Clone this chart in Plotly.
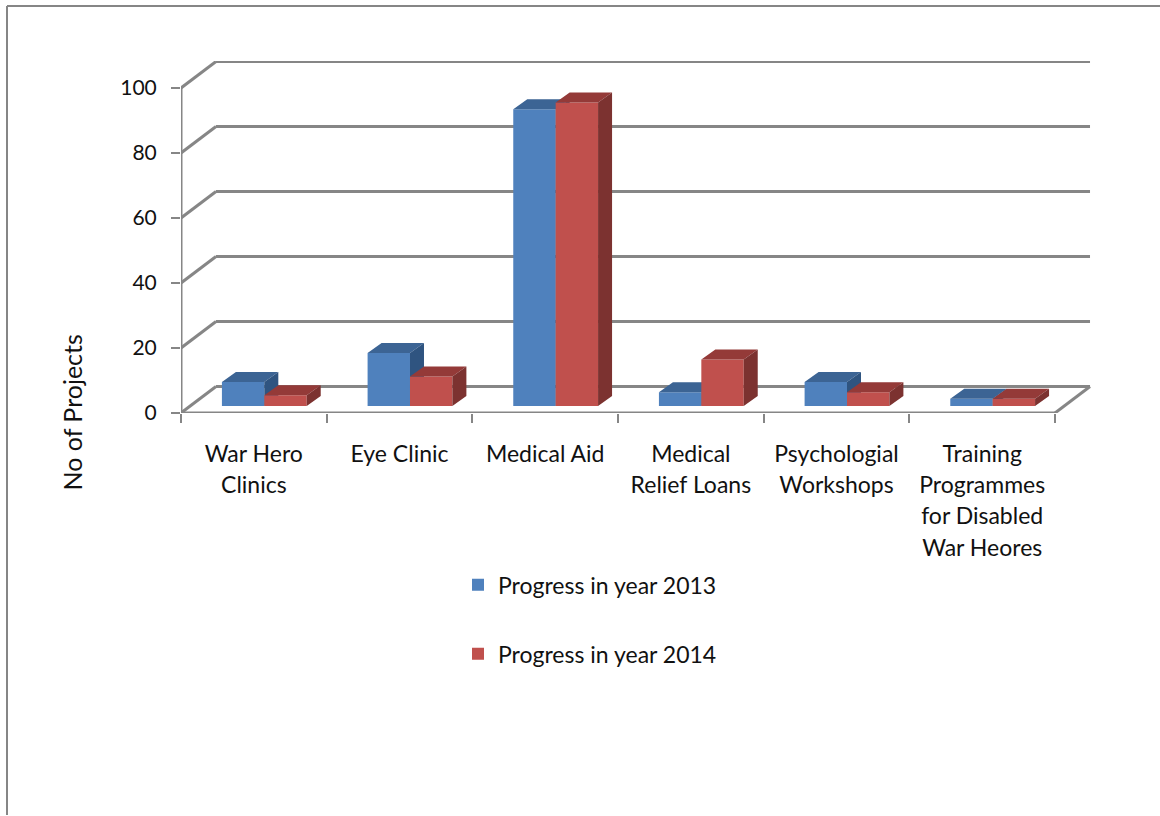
import plotly.graph_objects as go

categories = ["War Hero<br>Clinics", "Eye Clinic", "Medical Aid", "Medical<br>Relief Loans",
              "Psychologial<br>Workshops", "Training<br>Programmes<br>for Disabled<br>War Heores"]
progress_2013 = [7.4, 16.3, 91.3, 4.2, 7.4, 2.2]
progress_2014 = [3.3, 9.1, 93.4, 14.3, 4.2, 2.2]
y_ticks = [0, 20, 40, 60, 80, 100]

FONT = "Lato, Carlito, Calibri, sans-serif"
INK = "#111111"
GRID = "#868686"
BLUE, BLUE_TOP, BLUE_SIDE = "#4F81BD", "#3C6494", "#2F5480"
RED, RED_TOP, RED_SIDE = "#C0504D", "#943A38", "#7C3230"

# pixel frame of the plot area
PL, PR, PT, PB = 181, 1091, 61, 413.5
CAT_W = 145.67
PX_PER_UNIT = 3.255
x_max = (PR - PL) / CAT_W
y_max = (PB - PT) / PX_PER_UNIT
WALL_DX, WALL_DY = 35 / CAT_W, 26.5 / PX_PER_UNIT      # depth of the floor
BAR_DX, BAR_DY = 14 / CAT_W, 10 / PX_PER_UNIT          # depth of a bar
BASE = 7 / PX_PER_UNIT
BAR_W = 42.4 / CAT_W
JUNCTION = 0.072                                        # shift of bar pair from category centre
n = len(categories)


def faces(xs_left, vals):
    """top and side faces of the bars, separated by None"""
    tx, ty, sx, sy = [], [], [], []
    for x0, v in zip(xs_left, vals):
        x1, top = x0 + BAR_W, BASE + v
        tx += [x0, x0 + BAR_DX, x1 + BAR_DX, x1, x0, None]
        ty += [top, top + BAR_DY, top + BAR_DY, top, top, None]
        sx += [x1, x1 + BAR_DX, x1 + BAR_DX, x1, x1, None]
        sy += [BASE, BASE + BAR_DY, top + BAR_DY, top, BASE, None]
    return tx, ty, sx, sy


centres = [i + 0.5 for i in range(n)]
left_blue = [c + JUNCTION - BAR_W for c in centres]
left_red = [c + JUNCTION for c in centres]

fig = go.Figure()


def add_series(name, left, vals, front, top, side, xa, ya):
    tx, ty, sx, sy = faces(left, vals)
    fig.add_trace(go.Bar(x=[l + BAR_W / 2 for l in left], y=vals, base=[BASE] * n, width=BAR_W,
                         name=name, legendgroup=name, marker=dict(color=front, line=dict(width=0)),
                         xaxis=xa, yaxis=ya, hoverinfo="skip"))
    for fx, fy, col in ((tx, ty, top), (sx, sy, side)):
        fig.add_trace(go.Scatter(x=fx, y=fy, mode="lines", fill="toself", fillcolor=col,
                                 line=dict(width=0, color=col), showlegend=False,
                                 xaxis=xa, yaxis=ya, hoverinfo="skip"))


add_series("Progress in year 2013", left_blue, progress_2013, BLUE, BLUE_TOP, BLUE_SIDE, "x", "y")
add_series("Progress in year 2014", left_red, progress_2014, RED, RED_TOP, RED_SIDE, "x2", "y2")

shapes = []


def seg(x0, y0, x1, y1, w=3):
    shapes.append(dict(type="line", xref="x", yref="y", x0=x0, y0=y0, x1=x1, y1=y1,
                       line=dict(color=GRID, width=w), layer="below"))


for v in y_ticks:
    seg(0, v, WALL_DX, v + WALL_DY)
    seg(WALL_DX, v + WALL_DY, n + WALL_DX, v + WALL_DY)
seg(0, 0, 0, y_ticks[-1])
seg(0, 0, n, 0)
seg(n, 0, n + WALL_DX, WALL_DY)

# outer frame of the picture (left and top edges only)
W, H = 1160, 816
px_x = lambda p: (p - PL) / (PR - PL)
px_y = lambda p: (PB - p) / (PB - PT)
for x0, y0, x1, y1 in ((7, 6, 7, H), (7, 6, W, 6)):
    shapes.append(dict(type="line", xref="paper", yref="paper", x0=px_x(x0), y0=px_y(y0),
                       x1=px_x(x1), y1=px_y(y1), line=dict(color=GRID, width=2)))

line_span = '<span style="font-size:23px">%s</span>'
tick_text = ["<br>".join(line_span % ln for ln in c.split("<br>")) for c in categories]

fig.update_layout(
    width=W, height=H, autosize=False,
    margin=dict(l=PL, r=W - PR, t=PT, b=H - PB, pad=0, autoexpand=False),
    paper_bgcolor="white", plot_bgcolor="rgba(0,0,0,0)",
    font=dict(family=FONT, size=23, color=INK),
    barmode="overlay", shapes=shapes, hovermode=False,
    xaxis=dict(range=[0, x_max], showgrid=False, zeroline=False, showline=False,
               tickmode="array", tickvals=centres, ticktext=tick_text, ticks="",
               ticklabelstandoff=24, tickfont=dict(family=FONT, size=24.0, color=INK),
               minor=dict(tickmode="array", tickvals=list(range(n + 1)), ticks="outside", ticklen=9,
                          tickwidth=2, tickcolor=GRID, showgrid=False)),
    yaxis=dict(range=[0, y_max], showgrid=False, zeroline=False, showline=False,
               tickmode="array", tickvals=y_ticks, ticks="outside", ticklen=9, tickwidth=2,
               tickcolor=GRID, ticklabelstandoff=10, tickfont=dict(family=FONT, size=21, color=INK)),
    xaxis2=dict(range=[0, x_max], overlaying="x", visible=False),
    yaxis2=dict(range=[0, y_max], overlaying="y", visible=False),
    legend=dict(x=px_x(458), y=px_y(564), xanchor="left", yanchor="top", orientation="v",
                tracegroupgap=36, bgcolor="rgba(0,0,0,0)", font=dict(family=FONT, size=23, color=INK),
                itemclick=False, itemdoubleclick=False),
    annotations=[dict(text="No of Projects", textangle=-90, xref="paper", yref="paper",
                      x=px_x(72), y=px_y(413), xanchor="center", yanchor="middle", showarrow=False,
                      font=dict(family=FONT, size=25, color=INK))],
)

fig.write_html("out.html", config=dict(displayModeBar=False),
               post_script="document.body.style.margin='0';")
